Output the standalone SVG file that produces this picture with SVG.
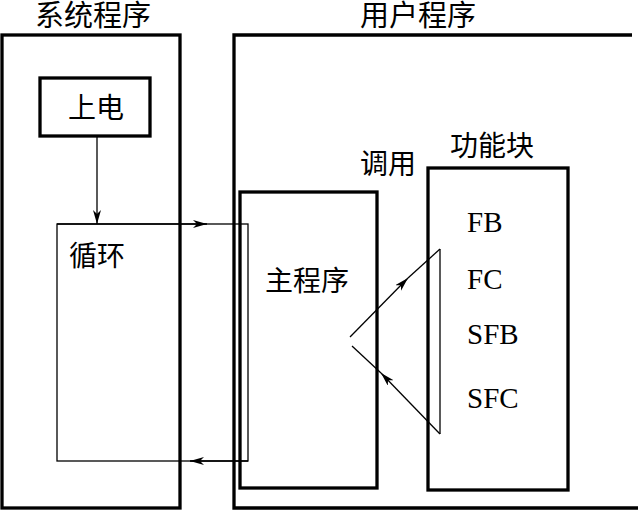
<svg xmlns="http://www.w3.org/2000/svg" width="638" height="510" viewBox="0 0 638 510">
<defs>
<style>
.thick{fill:none;stroke:#000;stroke-width:3.3}
.thin{fill:none;stroke:#000;stroke-width:1.3}
.cjk{font-family:"Noto Sans CJK SC","Noto Sans",sans-serif;font-size:28px;fill:#000;text-anchor:middle}
.title{font-size:29px}
.lat{font-family:"Liberation Serif",serif;font-size:29px;fill:#000}
</style>
<marker id="ah" markerUnits="userSpaceOnUse" markerWidth="16" markerHeight="10" refX="14" refY="4" orient="auto">
<path d="M0,0 L14,4 L0,8 L4,4 z" fill="#000"/>
</marker>
</defs>
<rect width="638" height="510" fill="#fff"/>
<g id="system">
<rect class="thick" x="2" y="35" width="178" height="473"/>
<text class="cjk title" x="93" y="26">系统程序</text>
</g>
<g id="user">
<path class="thick" d="M632,35 H234 V508 H638"/>
<text class="cjk title" x="418" y="26">用户程序</text>
</g>
<g id="power">
<rect class="thick" x="40" y="78" width="110" height="58"/>
<text class="cjk" x="96" y="118">上电</text>
</g>
<g id="loop">
<rect class="thin" x="57" y="224" width="191" height="237"/>
<text class="cjk" x="97" y="266">循环</text>
</g>
<g id="main">
<rect class="thick" x="240" y="192" width="137" height="296"/>
<text class="cjk" x="307" y="291">主程序</text>
</g>
<g id="call-label">
<text class="cjk" x="388" y="174">调用</text>
</g>
<g id="fblock">
<rect class="thick" x="428" y="168" width="140" height="322"/>
<text class="cjk" x="492" y="156">功能块</text>
<text class="lat" x="467" y="232">FB</text>
<text class="lat" x="467" y="289">FC</text>
<text class="lat" x="467" y="344">SFB</text>
<text class="lat" x="467" y="408">SFC</text>
</g>
<g id="connectors">
<line class="thin" x1="97" y1="136" x2="97" y2="224" marker-end="url(#ah)"/>
<line class="thin" x1="57" y1="224" x2="207" y2="224" marker-end="url(#ah)"/>
<line class="thin" x1="248" y1="461" x2="190" y2="461" marker-end="url(#ah)"/>
<line class="thin" x1="350" y1="337" x2="408" y2="278" marker-end="url(#ah)"/>
<line class="thin" x1="408" y1="278" x2="440" y2="249"/>
<line class="thin" x1="440" y1="249" x2="440" y2="434"/>
<line class="thin" x1="440" y1="434" x2="381" y2="373" marker-end="url(#ah)"/>
<line class="thin" x1="381" y1="373" x2="352" y2="346"/>
</g>
</svg>
